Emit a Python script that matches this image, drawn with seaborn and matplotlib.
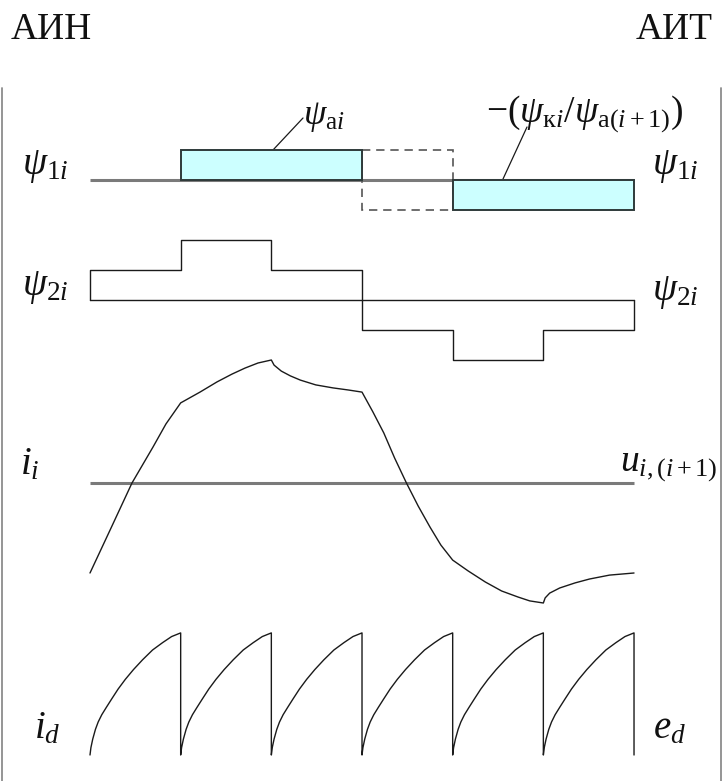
import numpy as np
import matplotlib
matplotlib.use("Agg")
import matplotlib.pyplot as plt
import matplotlib.transforms as mtransforms
from matplotlib.patches import Rectangle
from matplotlib.lines import Line2D
import seaborn as sns

sns.set_theme(style="white")
plt.rcParams["font.family"] = ["Liberation Serif", "DejaVu Serif"]
plt.rcParams["mathtext.fontset"] = "custom"
plt.rcParams["mathtext.rm"] = "Liberation Serif"
plt.rcParams["mathtext.it"] = "Liberation Serif:italic"
plt.rcParams["mathtext.bf"] = "Liberation Serif:bold"

# ---- data -------------------------------------------------------------
# switching instants, in commutation intervals
t_edges = [0, 1, 2, 3, 4, 5, 6]

# psi_1 row: flux blocks (start, end, level)
psi_a_block = (1, 3, 1)        # psi_ai
psi_k_block = (4, 6, -1)       # -(psi_ki / psi_a(i+1))
overlap_block = (3, 4, 1, -1)  # dashed interval spanning both levels

# psi_2 row: level in each interval
psi2_levels = [1, 2, 1, -1, -2, -1]

# phase current i_i
ii_t = [0.0, 0.232, 0.463, 0.695, 0.838, 1.0,
        1.213, 1.401, 1.566, 1.709, 1.853, 2.0,
        2.03, 2.11, 2.21, 2.32, 2.49, 2.68, 2.85, 3.0,
        3.12, 3.24, 3.36, 3.49, 3.62, 3.75, 3.87, 4.0,
        4.17, 4.36, 4.54, 4.72, 4.85, 5.0,
        5.02, 5.07, 5.18, 5.35, 5.51, 5.73, 6.0]
ii_v = [-3.0, -1.5, 0.0, 1.2, 1.97, 2.67,
        3.03, 3.37, 3.63, 3.83, 4.0, 4.1,
        3.93, 3.73, 3.57, 3.43, 3.27, 3.17, 3.10, 3.03,
        2.37, 1.67, 0.83, 0.0, -0.77, -1.47, -2.07, -2.57,
        -2.93, -3.3, -3.6, -3.8, -3.93, -4.0,
        -3.83, -3.67, -3.5, -3.33, -3.2, -3.07, -3.0]

# rectified current i_d: rise within one interval (fraction of interval, fraction of peak)
ramp_t = [0.0, 0.01, 0.03, 0.06, 0.09, 0.13, 0.18, 0.24, 0.31, 0.39, 0.48, 0.58, 0.69, 0.80, 0.90, 1.0]
ramp_v = [0.0, 0.06, 0.13, 0.21, 0.27, 0.33, 0.39, 0.46, 0.54, 0.62, 0.70, 0.78, 0.86, 0.92, 0.97, 1.0]
id_peak = 4.07

# ---- layout -----------------------------------------------------------
W, H = 725, 781
X0, DX = 90.0, 90.67   # pixel of t=0 and pixels per interval
UNIT = 30.0            # pixels per level unit
Y_PSI1, Y_PSI2, Y_II, Y_ID = 180 / UNIT, 300 / UNIT, 483 / UNIT, 755 / UNIT

fig = plt.figure(figsize=(W / 100, H / 100), dpi=100)
ax = fig.add_axes([0, 0, 1, 1])
ax.set_xlim(-X0 / DX, (W - X0) / DX)
ax.set_ylim(H / UNIT, 0)
ax.axis("off")

px = mtransforms.Affine2D().scale(1 / W, -1 / H).translate(0, 1) + fig.transFigure

LW = 1.0
INK = "#1a1a1a"
GRAY = "#7a7a7a"

# frame lines at the sides
for xf in (2, 721):
    fig.add_artist(Line2D([xf, xf], [88, H], transform=px, color="#8c8c8c", lw=1.3))

# ---- psi_1 row --------------------------------------------------------
ax.plot([t_edges[0], t_edges[-1]], [Y_PSI1, Y_PSI1], color=GRAY, lw=2.2,
        solid_capstyle="butt", zorder=1)
for (t0, t1, lev) in (psi_a_block, psi_k_block):
    ax.add_patch(Rectangle((t0, Y_PSI1 - max(lev, 0)), t1 - t0, abs(lev),
                           facecolor="#ccffff", edgecolor="#2e3a3a", lw=1.4, zorder=3))
t0, t1, up, dn = overlap_block
ax.add_patch(Rectangle((t0, Y_PSI1 - up), t1 - t0, up - dn, facecolor="none",
                       edgecolor="#555555", lw=1.2, ls=(0, (5, 3.5)), zorder=2))

# ---- psi_2 row --------------------------------------------------------
xs = [t_edges[0]]
ys = [0]
for k, lev in enumerate(psi2_levels):
    xs += [t_edges[k], t_edges[k + 1]]
    ys += [lev, lev]
xs += [t_edges[-1]]
ys += [0]
sns.lineplot(x=xs, y=[Y_PSI2 - v for v in ys], sort=False, estimator=None,
             color=INK, lw=LW, ax=ax)
ax.plot([t_edges[0], t_edges[-1]], [Y_PSI2, Y_PSI2], color=INK, lw=LW)

# ---- phase current ----------------------------------------------------
ax.plot([t_edges[0], t_edges[-1]], [Y_II, Y_II], color=GRAY, lw=2.2,
        solid_capstyle="butt", zorder=1)
sns.lineplot(x=ii_t, y=[Y_II - v for v in ii_v], sort=False, estimator=None,
             color=INK, lw=LW, ax=ax)

# ---- rectified current ------------------------------------------------
id_x, id_y = [], []
for k in range(len(t_edges) - 1):
    id_x += [t_edges[k] + r for r in ramp_t]
    id_y += [Y_ID - id_peak * r for r in ramp_v]
    id_x += [t_edges[k + 1]]
    id_y += [Y_ID]
sns.lineplot(x=id_x, y=id_y, sort=False, estimator=None, color=INK, lw=LW, ax=ax)

# ---- leaders ----------------------------------------------------------
ax.plot([(303 - X0) / DX, (273 - X0) / DX], [118 / UNIT, 150 / UNIT], color=INK, lw=0.9)
ax.plot([(527 - X0) / DX, (503 - X0) / DX], [127 / UNIT, 179 / UNIT], color=INK, lw=0.9)

# ---- text -------------------------------------------------------------
tk = dict(transform=px, color="#111111")
ax.text(11, 39, "АИН", fontsize=27, ha="left", va="baseline", **tk)
ax.text(713, 39, "АИТ", fontsize=27, ha="right", va="baseline", **tk)

ax.text(303, 124, r"$\psi_{\mathrm{a}i}$", fontsize=26, ha="left", va="baseline", **tk)
ax.text(486, 121, r"$-(\psi_{\mathrm{к}i}/\psi_{\mathrm{a}(i+1)})$", fontsize=27,
        ha="left", va="baseline", **tk)

ax.text(22, 174, r"$\psi_{1i}$", fontsize=28, ha="left", va="baseline", **tk)
ax.text(652, 174, r"$\psi_{1i}$", fontsize=28, ha="left", va="baseline", **tk)
ax.text(22, 295, r"$\psi_{2i}$", fontsize=28, ha="left", va="baseline", **tk)
ax.text(652, 300, r"$\psi_{2i}$", fontsize=28, ha="left", va="baseline", **tk)

ax.text(20, 474, r"$i_i$", fontsize=28, ha="left", va="baseline", **tk)
ax.text(620, 470, r"$u_{i,(i+1)}$", fontsize=27, ha="left", va="baseline", **tk)

ax.text(34, 738, r"$i_d$", fontsize=28, ha="left", va="baseline", **tk)
ax.text(653, 738, r"$e_d$", fontsize=28, ha="left", va="baseline", **tk)

fig.savefig("out.png", dpi=100, facecolor="white")
